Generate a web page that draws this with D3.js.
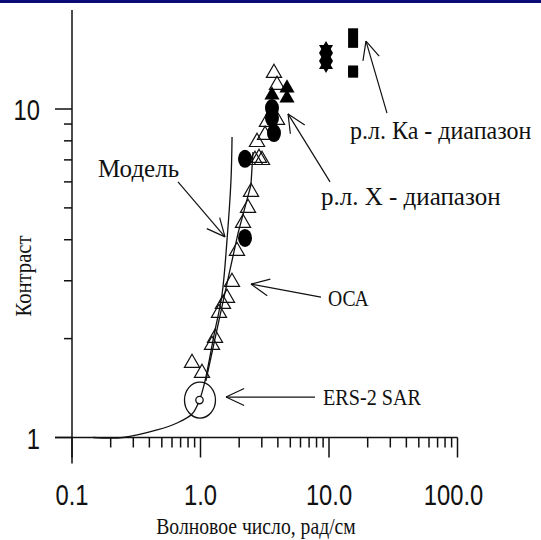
<!DOCTYPE html>
<html>
<head>
<meta charset="utf-8">
<script src="https://cdn.jsdelivr.net/npm/d3@7/dist/d3.min.js"></script>
<style>
    body { margin: 0; background: #fff; }
    svg { display: block; }
</style>
</head>
<body>
<div id="chart"></div>
<script>
//==========DATA (wave number k, rad/cm ; contrast C)
var xTicksMajor = [0.1, 1, 10, 100],
    xTickLabels = ["0.1", "1.0", "10.0", "100.0"],
    xTicksMinor = [0.2, 0.3, 0.4, 0.5, 0.6, 0.7, 0.8, 0.9,
                   2, 3, 4, 5, 6, 7, 8, 9,
                   20, 30, 40, 50, 60, 70, 80, 90];
var yTicksMajor = [1, 10],
    yTickLabels = ["1", "10"],
    yTicksMinor = [2, 3, 4, 5, 6, 7, 8, 9];

// model curve
var modelK = [0.146, 0.249, 0.459, 0.656, 0.859, 0.982, 1.084, 1.274, 1.469, 1.608, 1.727, 1.76],
    modelC = [1.0, 1.0, 1.054, 1.107, 1.179, 1.30, 1.486, 2.05, 2.715, 3.99, 6.08, 8.22];

// straight fit through the OCA points
var fitK = [1.10, 1.524, 1.96, 2.47, 2.56],
    fitC = [1.486, 2.677, 4.19, 5.87, 7.4];

// OCA (open triangles)
var ocaK = [0.859, 1.027, 1.229, 1.297, 1.393, 1.496, 1.608, 1.758, 1.923, 2.142, 2.343, 2.473,
            2.655, 2.853, 3.01, 2.753, 3.18, 3.29, 3.94, 3.73, 3.94],
    ocaC = [1.686, 1.572, 1.912, 2.009, 2.393, 2.55, 2.659, 2.974, 3.696, 4.498, 4.996, 5.588,
            6.99, 7.09, 6.99, 7.93, 8.33, 9.13, 9.26, 12.87, 11.83];

// X-band radar (filled circles and filled triangles)
var xCircK = [2.22, 2.22, 3.60, 3.60, 3.73],
    xCircC = [7.05, 4.05, 10.07, 9.39, 8.45];
var xTriK = [4.71, 4.71, 3.60],
    xTriC = [11.58, 10.8, 11.03];

// X-band, stars
var starK = [9.48, 9.48, 9.48],
    starC = [15.22, 14.4, 13.61];

// Ka-band radar (filled squares)
var kaK = [15.4, 15.4, 15.4, 15.4],
    kaC = [17.0, 15.9, 13.1, 12.9];

// ERS-2 SAR
var ersK = [0.982],
    ersC = [1.30];

//==========SETUP
var width = 541, height = 540;

var svg = d3.select("#chart").append("svg")
    .attr("width", width)
    .attr("height", height);

svg.append("rect").attr("width", width).attr("height", height).attr("fill", "#fff");
//navy rule along the top
svg.append("rect").attr("width", width).attr("height", 3).attr("fill", "#0b0b78");

var x = d3.scaleLog().domain([0.1, 100]).range([72, 457.5]);
var y = d3.scaleLog().domain([1, 10]).range([437.5, 109]);

var ink = "#111";

function zip(a, b) {
    return a.map(function (v, i) { return [v, b[i]]; });
}

//==========AXES (drawn by hand, ticks hang outside)
var axisG = svg.append("g").attr("stroke", ink).attr("stroke-width", 1.5);

axisG.selectAll("line.xminor")
    .data(xTicksMinor)
    .enter().append("line")
    .attr("class", "xminor")
    .attr("x1", function (d) { return x(d); }).attr("x2", function (d) { return x(d); })
    .attr("y1", y(1)).attr("y2", y(1) + 10);
axisG.selectAll("line.xmajor")
    .data(xTicksMajor)
    .enter().append("line")
    .attr("class", "xmajor")
    .attr("x1", function (d) { return x(d); }).attr("x2", function (d) { return x(d); })
    .attr("y1", y(1)).attr("y2", y(1) + 20);

axisG.selectAll("line.yminor")
    .data(yTicksMinor)
    .enter().append("line")
    .attr("class", "yminor")
    .attr("y1", function (d) { return y(d); }).attr("y2", function (d) { return y(d); })
    .attr("x1", x(0.1)).attr("x2", x(0.1) - 8);
axisG.selectAll("line.ymajor")
    .data(yTicksMajor)
    .enter().append("line")
    .attr("class", "ymajor")
    .attr("y1", function (d) { return y(d); }).attr("y2", function (d) { return y(d); })
    .attr("x1", x(0.1)).attr("x2", x(0.1) - 17);

//axis lines (they cross past the origin)
axisG.append("line")
    .attr("x1", 55).attr("x2", x(100))
    .attr("y1", y(1)).attr("y2", y(1));
axisG.append("line")
    .attr("x1", x(0.1)).attr("x2", x(0.1))
    .attr("y1", y(20)).attr("y2", y(1) + 26);

//tick labels - narrow sans
function sansLabel(px, py, txt, anchor) {
    svg.append("text")
        .attr("transform", "translate(" + px + "," + py + ") scale(0.82,1)")
        .attr("text-anchor", anchor)
        .attr("font-family", "'Liberation Sans', Arial, sans-serif")
        .attr("font-size", 29)
        .attr("fill", ink)
        .text(txt);
}
xTicksMajor.forEach(function (v, i) {
    sansLabel(x(v) - (i == 3 ? 4 : 0), 505, xTickLabels[i], "middle");
});
yTicksMajor.forEach(function (v, i) {
    sansLabel(40, y(v) + 11, yTickLabels[i], "end");
});

//serif text, sx = horizontal squeeze
function serif(px, py, txt, size, sx, anchor, rot) {
    return svg.append("text")
        .attr("transform", "translate(" + px + "," + py + ")" + (rot ? " rotate(" + rot + ")" : "") +
              " scale(" + sx + ",1)")
        .attr("text-anchor", anchor || "start")
        .attr("font-family", "'Liberation Serif', 'Times New Roman', serif")
        .attr("font-size", size)
        .attr("fill", ink)
        .text(txt);
}
serif(256, 534, "Волновое число, рад/см", 24, 0.82, "middle");
serif(31, 276, "Контраст", 24, 0.86, "middle", -90);

//==========LINES
var line = d3.line()
    .x(function (d) { return x(d[0]); })
    .y(function (d) { return y(d[1]); })
    .curve(d3.curveCatmullRom.alpha(0.5));

svg.append("path")
    .attr("d", line(zip(modelK, modelC)))
    .attr("fill", "none").attr("stroke", ink).attr("stroke-width", 1.3);
svg.append("path")
    .attr("d", line.curve(d3.curveLinear)(zip(fitK, fitC)))
    .attr("fill", "none").attr("stroke", ink).attr("stroke-width", 1.3);

//==========MARKERS
var tri = d3.symbol().type(d3.symbolTriangle).size(100);

svg.append("g").selectAll("path")
    .data(zip(ocaK, ocaC))
    .enter().append("path")
    .attr("d", tri)
    .attr("transform", function (d) { return "translate(" + x(d[0]) + "," + y(d[1]) + ")"; })
    .attr("fill", "none").attr("stroke", ink).attr("stroke-width", 1.2);

svg.append("g").selectAll("ellipse")
    .data(zip(xCircK, xCircC))
    .enter().append("ellipse")
    .attr("cx", function (d) { return x(d[0]); })
    .attr("cy", function (d) { return y(d[1]); })
    .attr("rx", 7).attr("ry", 9)
    .attr("fill", "#000");

svg.append("g").selectAll("path")
    .data(zip(xTriK, xTriC))
    .enter().append("path")
    .attr("d", tri)
    .attr("transform", function (d) { return "translate(" + x(d[0]) + "," + y(d[1]) + ")"; })
    .attr("fill", "#000");

//six-pointed stars = up + down triangle
var starSym = d3.symbol().type(d3.symbolTriangle).size(85);
var starG = svg.append("g").selectAll("g")
    .data(zip(starK, starC))
    .enter().append("g")
    .attr("transform", function (d) { return "translate(" + x(d[0]) + "," + y(d[1]) + ")"; });
starG.append("path").attr("d", starSym).attr("fill", "#000");
starG.append("path").attr("d", starSym).attr("transform", "rotate(180)").attr("fill", "#000");

svg.append("g").selectAll("rect")
    .data(zip(kaK, kaC))
    .enter().append("rect")
    .attr("x", function (d) { return x(d[0]) - 5; })
    .attr("y", function (d) { return y(d[1]) - 5; })
    .attr("width", 10).attr("height", 10)
    .attr("fill", "#000");

//ERS-2 SAR : small circle inside a big ring
zip(ersK, ersC).forEach(function (d) {
    svg.append("ellipse")
        .attr("cx", x(d[0]) + 0.5).attr("cy", y(d[1]))
        .attr("rx", 15.5).attr("ry", 18)
        .attr("fill", "none").attr("stroke", ink).attr("stroke-width", 1.3);
    svg.append("circle")
        .attr("cx", x(d[0])).attr("cy", y(d[1]))
        .attr("r", 3.7)
        .attr("fill", "#fff").attr("stroke", ink).attr("stroke-width", 1.3);
});

//==========ANNOTATIONS (arrow tip in data units, tail offset in px)
function arrow(k, c, dx, dy) {
    var tx = x(k), ty = y(c),
        ang = Math.atan2(dy, dx),
        len = 20, spread = 25 * Math.PI / 180;
    var g = svg.append("g").attr("stroke", ink).attr("stroke-width", 1.2);
    g.append("line").attr("x1", tx).attr("y1", ty).attr("x2", tx + dx).attr("y2", ty + dy);
    [-spread, spread].forEach(function (s) {
        g.append("line")
            .attr("x1", tx).attr("y1", ty)
            .attr("x2", tx + len * Math.cos(ang + s))
            .attr("y2", ty + len * Math.sin(ang + s));
    });
}

arrow(1.551, 4.08, -47, -55);   //Модель
serif(98, 177, "Модель", 25, 1);

arrow(4.80, 9.66, 42, 68);      //X band
serif(321, 205, "р.л. X - диапазон", 25, 1);

arrow(19.4, 16.1, 21, 72);      //Ka band
serif(350, 139, "р.л. Ка - диапазон", 25, 0.96);

arrow(2.47, 2.93, 70, 13);      //OCA
serif(328, 306, "ОСА", 24, 0.82);

arrow(1.579, 1.328, 89, 0);     //ERS-2 SAR
serif(323, 405, "ERS-2 SAR", 24, 0.84);
</script>
</body>
</html>
